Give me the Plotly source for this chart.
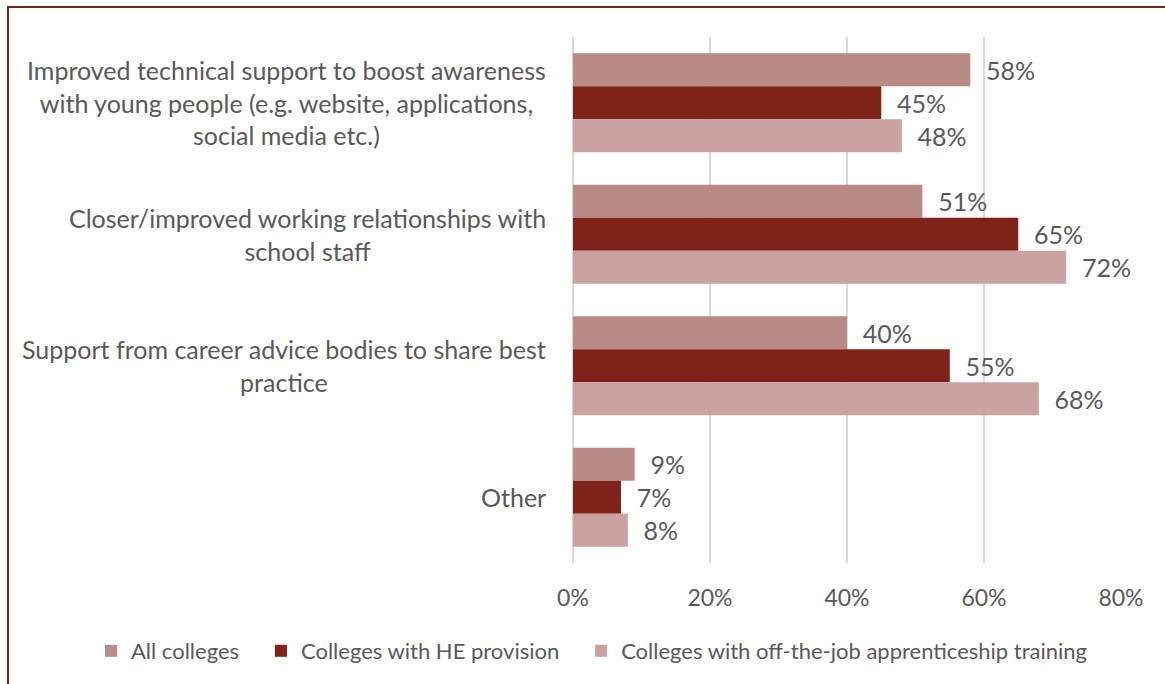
import plotly.graph_objects as go

# Survey categories (top to bottom) and per-series shares in percent
categories = [
    "Improved technical support to boost awareness<br>with young people (e.g. website, applications,<br>social media etc.)",
    "Closer/improved working relationships with<br>school staff",
    "Support from career advice bodies to share best<br>practice",
    "Other",
]
series_names = [
    "All colleges",
    "Colleges with HE provision",
    "Colleges with off-the-job apprenticeship training",
]
all_colleges = [58, 51, 40, 9]
he_provision = [45, 65, 55, 7]
apprenticeship = [48, 72, 68, 8]
x_ticks = [0, 20, 40, 60, 80]
x_tick_labels = ["0%", "20%", "40%", "60%", "80%"]

colors = ["#B98A86", "#7F2219", "#C9A2A1"]
text_grey = "#595959"
font_family = "Lato, 'Open Sans', sans-serif"

W, H = 1165, 684
m_l, m_r, m_t, m_b = 573, 44, 37, 121
plot_w = W - m_l - m_r
plot_h = H - m_t - m_b

# extra trailing space between legend entries
legend_pad = "\u00a0" * 3

fig = go.Figure()
for i, (name, vals, col) in enumerate(zip(series_names, [all_colleges, he_provision, apprenticeship], colors)):
    fig.add_trace(go.Bar(
        y=categories,
        x=vals,
        name=name + (legend_pad if i < len(series_names) - 1 else ""),
        orientation="h",
        marker=dict(color=col, line=dict(width=0)),
        text=[f"\u00a0\u00a0{v}%" for v in vals],
        textposition="outside",
        textfont=dict(family=font_family, size=25, color=text_grey),
        constraintext="none",
        cliponaxis=False,
        hoverinfo="skip",
    ))

# Category labels as centred multi-line text to the left of the plot area
for cat in categories:
    fig.add_annotation(
        x=(548 - m_l) / plot_w, xref="paper", xanchor="right",
        y=cat, yref="y", yanchor="middle",
        text=cat, align="center", showarrow=False,
        font=dict(family=font_family, size=25, color=text_grey),
    )

# Pixel -> paper coordinate helpers
def px_x(p):
    return (p - m_l) / plot_w

def px_y(p):
    return (H - m_b - p) / plot_h

# Dark red frame along the top and left edges
fig.add_shape(
    type="rect", xref="paper", yref="paper",
    x0=px_x(8), x1=px_x(1200), y0=px_y(7), y1=px_y(720),
    line=dict(color="#7B2018", width=2), fillcolor="rgba(0,0,0,0)",
    layer="below",
)

fig.update_layout(
    width=W, height=H,
    margin=dict(l=m_l, r=m_r, t=m_t, b=m_b, pad=0, autoexpand=False),
    paper_bgcolor="white", plot_bgcolor="white",
    barmode="group", bargap=0.247, bargroupgap=0,
    font=dict(family=font_family, color=text_grey),
    showlegend=True,
    legend=dict(
        orientation="h",
        x=px_x(91), xanchor="left",
        y=px_y(651), yanchor="middle",
        bgcolor="rgba(0,0,0,0)",
        font=dict(family=font_family, size=22, color=text_grey),
        itemclick=False, itemdoubleclick=False,
    ),
    xaxis=dict(
        range=[0, 80], tickvals=x_ticks, ticktext=x_tick_labels,
        showgrid=True, gridcolor="#D9D9D9", gridwidth=2,
        zeroline=True, zerolinecolor="#D9D9D9", zerolinewidth=2,
        showline=False, ticks="outside", ticklen=14,
        tickcolor="rgba(0,0,0,0)",
        tickfont=dict(family=font_family, size=23, color=text_grey),
        fixedrange=True,
    ),
    yaxis=dict(
        autorange="reversed", showticklabels=False, ticks="",
        showgrid=False, zeroline=False, showline=False, fixedrange=True,
    ),
)

fig.write_html("out.html", config={"displayModeBar": False})
